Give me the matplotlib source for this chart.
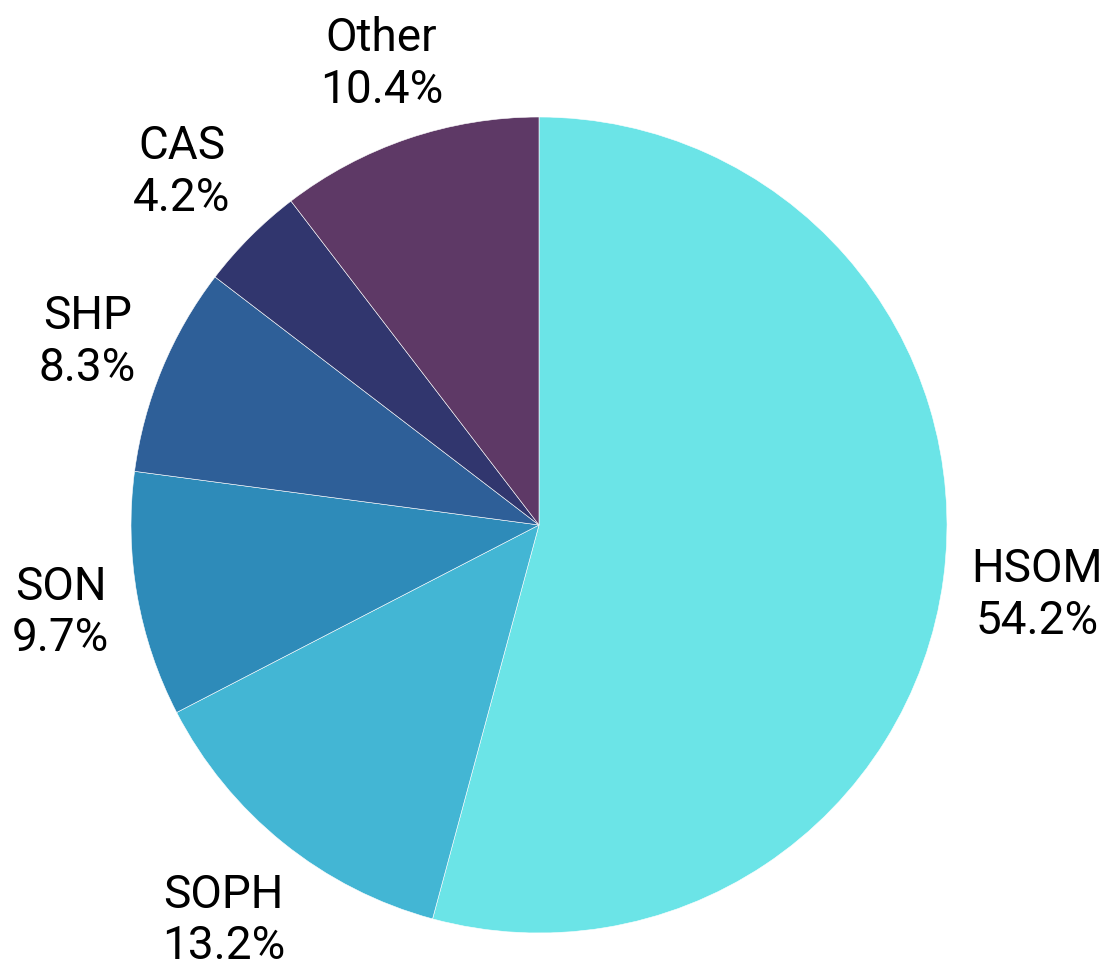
import matplotlib
matplotlib.use("Agg")
import matplotlib.pyplot as plt
import numpy as np

categories = ["HSOM", "SOPH", "SON", "SHP", "CAS", "Other"]
values = [54.2, 13.2, 9.7, 8.3, 4.2, 10.4]
colors = ["#6BE4E7", "#43B6D4", "#2E8BB9", "#2E5F98", "#31366E", "#5E3966"]

plt.rcParams['font.family'] = ['Roboto', 'DejaVu Sans']

W, H = 1106, 966
fig = plt.figure(figsize=(W / 100, H / 100), dpi=100)
ax = fig.add_axes([0, 0, 1, 1])
cx, cy, R = 539, 525, 408

wedges, _ = ax.pie(values, colors=colors, startangle=90, counterclock=False,
                   radius=1.0, wedgeprops=dict(edgecolor="white", linewidth=0.4))

ax.set_aspect("auto")
ax.set_xlim((0 - cx) / R, (W - cx) / R)
ax.set_ylim(-(H - cy) / R, cy / R)
ax.axis("off")

renderer = fig.canvas.get_renderer()
total = sum(values)
cum = 0
offset_px = 28
for cat, v in zip(categories, values):
    mid = 90 - (cum + v / 2) / total * 360
    cum += v
    a = np.deg2rad(mid)
    ux, uy = np.cos(a), np.sin(a)
    t = ax.text(0, 0, f"{cat}\n{v:.1f}%", ha="center", va="center",
                fontsize=33, linespacing=1.22, color="black")
    bb = t.get_window_extent(renderer)
    hw, hh = bb.width / 2, 52
    ext = min(hw / max(abs(ux), 1e-9), hh / max(abs(uy), 1e-9))
    D = R + offset_px + ext
    x = ux * D / R
    y = (uy * D - 4) / R
    t.set_position((x, y))

fig.savefig("out.png", dpi=100)
